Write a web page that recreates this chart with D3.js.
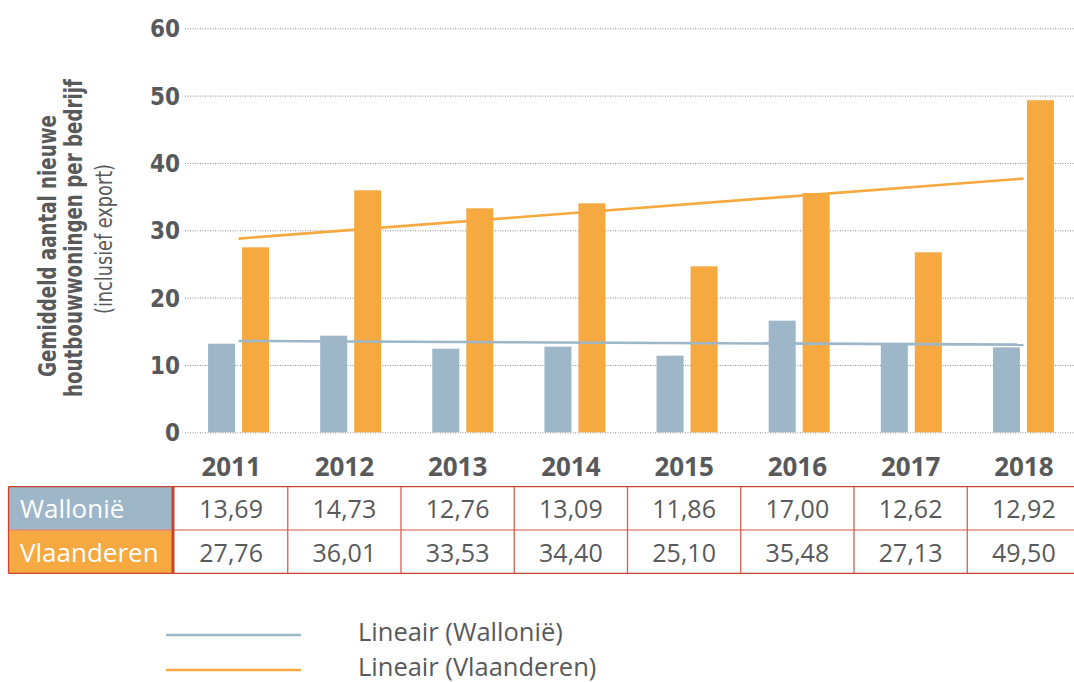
<!DOCTYPE html>
<html>
<head>
<meta charset="utf-8">
<script src="https://cdn.jsdelivr.net/npm/d3@7"></script>
<style>
  html, body { margin: 0; padding: 0; background: #fff; }
  svg { display: block; }
</style>
</head>
<body>
<svg id="chart" width="1074" height="682"></svg>
<script>
// ---- data ----
const years = ["2011", "2012", "2013", "2014", "2015", "2016", "2017", "2018"];
// values printed in the table
const wallonie = [13.69, 14.73, 12.76, 13.09, 11.86, 17.00, 12.62, 12.92];
const vlaanderen = [27.76, 36.01, 33.53, 34.40, 25.10, 35.48, 27.13, 49.50];
// bar heights as drawn in the chart
const barWallonie = [13.16, 14.35, 12.42, 12.72, 11.38, 16.58, 13.0, 12.62];
const barVlaanderen = [27.47, 35.94, 33.27, 34.01, 24.65, 35.54, 26.73, 49.32];
// linear trend lines, start (2011) and end (2018) values as drawn
const trendWallonie = [13.56, 13.02];
const trendVlaanderen = [28.77, 37.68];
const seriesNames = ["Wallonië", "Vlaanderen"];
const yTicks = [0, 10, 20, 30, 40, 50, 60];
const legendLabels = ["Lineair (Wallonië)", "Lineair (Vlaanderen)"];
const yTitle = ["Gemiddeld aantal nieuwe", "houtbouwwoningen per bedrijf", "(inclusief export)"];

// ---- style ----
const BLUE = "#9db6c8";
const ORANGE = "#f5a940";
const TEXT = "#58595b";
const RED = "#c9442c";
const PINK = "#df8d80";

const svg = d3.select("#chart");

const x = d3.scaleBand().domain(years).range([182.5, 1079.5]).padding(0);
const xSub = d3.scaleBand().domain(seriesNames).range([-30.5, 30.5]).paddingInner(7 / 34).paddingOuter(0);
const y = d3.scaleLinear().domain([0, 60]).range([432.3, 28.3]);
const color = d3.scaleOrdinal().domain(seriesNames).range([BLUE, ORANGE]);

// grid lines
const grid = d3.axisLeft(y).tickValues(yTicks).tickSize(-(1074 - 185)).tickFormat("");
const gg = svg.append("g").attr("transform", "translate(185,0)").call(grid);
gg.select(".domain").remove();
gg.selectAll(".tick line")
  .attr("stroke", "#8a8a8a")
  .attr("stroke-width", 1)
  .attr("stroke-dasharray", "1,1.5");

// y tick labels
const yAxis = d3.axisLeft(y).tickValues(yTicks).tickSize(0).tickPadding(0).tickFormat(d3.format("d"));
const ya = svg.append("g").attr("transform", "translate(180,0)").call(yAxis);
ya.select(".domain").remove();
ya.selectAll(".tick text")
  .attr("fill", TEXT)
  .attr("font-family", "'Liberation Sans Narrow','DejaVu Sans Condensed','Liberation Sans',sans-serif")
  .attr("font-weight", "bold")
  .attr("font-size", 24)
  .attr("dy", "0.35em");

// bars
const data = years.map((yr, i) => ({ year: yr, values: [
  { name: seriesNames[0], v: barWallonie[i] },
  { name: seriesNames[1], v: barVlaanderen[i] }
]}));

const groups = svg.append("g").selectAll("g").data(data).join("g")
  .attr("transform", d => `translate(${x(d.year) + x.bandwidth() / 2},0)`);
groups.selectAll("rect").data(d => d.values).join("rect")
  .attr("x", d => xSub(d.name))
  .attr("width", xSub.bandwidth())
  .attr("y", d => y(d.v))
  .attr("height", d => y(0) - y(d.v))
  .attr("fill", d => color(d.name));

// linear trend lines
const trendYears = [years[0], years[years.length - 1]];
const line = d3.line().x(d => x(d.yr) + x.bandwidth() / 2).y(d => y(d.v));
[[trendWallonie, BLUE], [trendVlaanderen, ORANGE]].forEach(([vals, c]) => {
  svg.append("path").datum(vals.map((v, i) => ({ yr: trendYears[i], v })))
    .attr("d", line)
    .attr("fill", "none")
    .attr("stroke", c)
    .attr("stroke-width", 2.6);
});

// y-axis title
const titleFont = "'Liberation Sans Narrow','DejaVu Sans Condensed','Liberation Sans',sans-serif";
const titleSpecs = [
  { t: yTitle[0], bx: 56, cy: 246, len: 262, w: "bold", fs: 25 },
  { t: yTitle[1], bx: 82, cy: 238, len: 318, w: "bold", fs: 25 },
  { t: yTitle[2], bx: 112, cy: 239, len: 150, w: "normal", fs: 23 }
];
titleSpecs.forEach(s => {
  svg.append("text")
    .attr("transform", `translate(${s.bx},${s.cy}) rotate(-90)`)
    .attr("text-anchor", "middle")
    .attr("font-family", titleFont)
    .attr("font-weight", s.w)
    .attr("font-size", s.fs)
    .attr("fill", TEXT)
    .attr("textLength", s.len)
    .attr("lengthAdjust", "spacingAndGlyphs")
    .text(s.t);
});

// ---- table ----
const tx = d3.scaleBand().domain(years).range([174.5, 1080.5]).padding(0);
const rowTop = [486.7, 530];
const rowH = 43.3;
const tableFont = "'Open Sans','Liberation Sans',sans-serif";

// year labels
svg.append("g").selectAll("text").data(years).join("text")
  .attr("x", d => tx(d) + tx.bandwidth() / 2)
  .attr("y", 476)
  .attr("text-anchor", "middle")
  .attr("font-family", tableFont)
  .attr("font-weight", "bold")
  .attr("font-size", 26)
  .attr("fill", TEXT)
  .text(d => d);

// label cells + values
const rowsData = [wallonie, vlaanderen];
seriesNames.forEach((name, r) => {
  svg.append("rect")
    .attr("x", 8.5).attr("y", rowTop[r])
    .attr("width", 163.5).attr("height", rowH)
    .attr("fill", color(name));
  svg.append("text")
    .attr("x", 20).attr("y", rowTop[r] + 31.5)
    .attr("font-family", tableFont)
    .attr("font-size", 26)
    .attr("fill", "#fff")
    .text(name);
  svg.append("g").selectAll("text").data(years).join("text")
    .attr("x", d => tx(d) + tx.bandwidth() / 2)
    .attr("y", rowTop[r] + 31.5)
    .attr("text-anchor", "middle")
    .attr("font-family", tableFont)
    .attr("font-size", 25)
    .attr("fill", TEXT)
    .text((d, i) => d3.format(".2f")(rowsData[r][i]).replace(".", ","));
});

// table lines
const tl = svg.append("g").attr("fill", "none");
tl.append("line").attr("x1", 8.5).attr("x2", 1074).attr("y1", rowTop[0]).attr("y2", rowTop[0]).attr("stroke", RED).attr("stroke-width", 1.3);
tl.append("line").attr("x1", 8.5).attr("x2", 1074).attr("y1", rowTop[1]).attr("y2", rowTop[1]).attr("stroke", PINK).attr("stroke-width", 1.3);
tl.append("line").attr("x1", 8.5).attr("x2", 1074).attr("y1", rowTop[1] + rowH).attr("y2", rowTop[1] + rowH).attr("stroke", RED).attr("stroke-width", 1.3);
tl.append("line").attr("x1", 8.5).attr("x2", 8.5).attr("y1", rowTop[0]).attr("y2", rowTop[1] + rowH).attr("stroke", RED).attr("stroke-width", 1.3);
tl.selectAll("line.v").data(years.slice(1)).join("line")
  .attr("class", "v")
  .attr("x1", d => tx(d)).attr("x2", d => tx(d))
  .attr("y1", rowTop[0]).attr("y2", rowTop[1] + rowH)
  .attr("stroke", "#d4604c").attr("stroke-width", 1.3);
tl.append("line").attr("x1", 173).attr("x2", 173).attr("y1", rowTop[0]).attr("y2", rowTop[1] + rowH).attr("stroke", RED).attr("stroke-width", 3);

// ---- legend ----
const legendColors = [BLUE, ORANGE];
const legendY = [635, 670];
legendLabels.forEach((lab, i) => {
  svg.append("line")
    .attr("x1", 166).attr("x2", 301)
    .attr("y1", legendY[i]).attr("y2", legendY[i])
    .attr("stroke", legendColors[i]).attr("stroke-width", 2.6);
  svg.append("text")
    .attr("x", 358).attr("y", legendY[i] + 6)
    .attr("font-family", tableFont)
    .attr("font-size", 25.5)
    .attr("fill", TEXT)
    .text(lab);
});
</script>
</body>
</html>
